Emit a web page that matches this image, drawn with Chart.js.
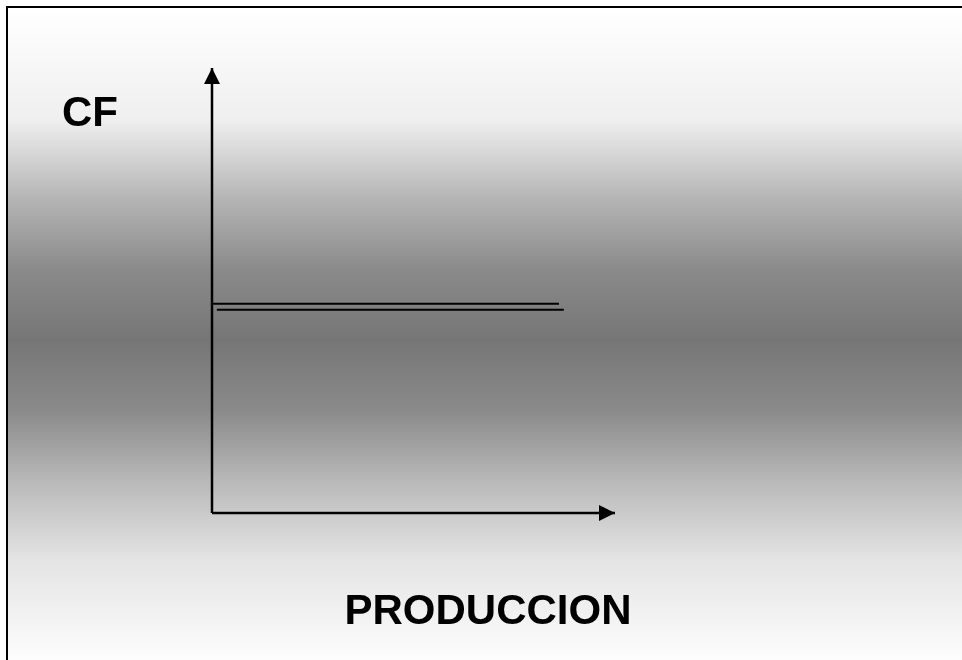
<!DOCTYPE html>
<html>
<head>
<meta charset="utf-8">
<script src="https://cdn.jsdelivr.net/npm/chart.js@4/dist/chart.umd.min.js"></script>
<style>
  html, body { margin: 0; padding: 0; background: #fff; }
  #wrap { width: 962px; height: 660px; position: relative; }
</style>
</head>
<body>
<div id="wrap"><canvas id="c" width="962" height="660"></canvas></div>
<script>
// ---- data ----
const yAxisTitle = "CF";
const xAxisTitle = "PRODUCCION";
const xAxisLine = [{x: 0, y: 0}, {x: 10, y: 0}];
const yAxisLine = [{x: 0, y: 0}, {x: 0, y: 10}];
const cfLine1 = [{x: 0, y: 4.70}, {x: 8.61, y: 4.70}];
const cfLine2 = [{x: 0.12, y: 4.57}, {x: 8.73, y: 4.57}];

const bgPlugin = {
  id: 'bg',
  beforeDraw(chart) {
    const ctx = chart.ctx;
    const W = chart.width, H = chart.height;
    ctx.save();
    ctx.fillStyle = '#ffffff';
    ctx.fillRect(0, 0, W, H);
    const g = ctx.createLinearGradient(0, 8, 0, H);
    const stops = [[0, '#ffffff'], [112, '#efefef'], [192, '#b4b4b4'], [262, '#8a8a8a'], [332, '#767676'], [402, '#8a8a8a'], [472, '#b8b8b8'], [552, '#e4e4e4'], [652, '#fdfdfd']];
    stops.forEach(s => g.addColorStop(s[0] / (H - 8), s[1]));
    ctx.fillStyle = g;
    ctx.fillRect(8, 8, W - 8, H - 8);
    ctx.strokeStyle = '#000';
    ctx.lineWidth = 2;
    ctx.beginPath();
    ctx.moveTo(7, H + 2);
    ctx.lineTo(7, 7);
    ctx.lineTo(W + 2, 7);
    ctx.stroke();
    ctx.restore();
  },
  afterDraw(chart) {
    const ctx = chart.ctx;
    ctx.save();
    // arrowheads
    chart.data.datasets.forEach((ds, i) => {
      if (!ds.arrow) return;
      const pts = chart.getDatasetMeta(i).data;
      const a = pts[pts.length - 2], b = pts[pts.length - 1];
      const ang = Math.atan2(b.y - a.y, b.x - a.x);
      const len = 16, half = 8;
      ctx.fillStyle = '#000';
      ctx.beginPath();
      ctx.moveTo(b.x, b.y);
      ctx.lineTo(b.x - len * Math.cos(ang) - half * Math.sin(ang), b.y - len * Math.sin(ang) + half * Math.cos(ang));
      ctx.lineTo(b.x - len * Math.cos(ang) + half * Math.sin(ang), b.y - len * Math.sin(ang) - half * Math.cos(ang));
      ctx.closePath();
      ctx.fill();
    });
    // titles
    ctx.fillStyle = '#000';
    ctx.font = 'bold 42px "Liberation Sans", Arial, sans-serif';
    ctx.textBaseline = 'alphabetic';
    ctx.textAlign = 'left';
    ctx.fillText(yAxisTitle, 62, 126);
    ctx.textAlign = 'center';
    ctx.fillText(xAxisTitle, 488, 624);
    ctx.restore();
  }
};

const lineDs = (data, width, arrow) => ({
  data, borderColor: '#000', borderWidth: width, pointRadius: 0,
  showLine: true, fill: false, clip: false, arrow, tension: 0
});

new Chart(document.getElementById('c'), {
  type: 'scatter',
  data: {
    datasets: [
      lineDs(cfLine1, 2, false),
      lineDs(cfLine2, 2, false),
      lineDs(xAxisLine, 2.5, true),
      lineDs(yAxisLine, 2.5, true)
    ]
  },
  options: {
    responsive: false,
    animation: false,
    devicePixelRatio: 1,
    layout: { padding: { left: 212, right: 347, top: 68, bottom: 147 } },
    plugins: { legend: { display: false }, tooltip: { enabled: false } },
    events: [],
    scales: {
      x: { type: 'linear', min: 0, max: 10, display: false },
      y: { type: 'linear', min: 0, max: 10, display: false }
    }
  },
  plugins: [bgPlugin]
});
</script>
</body>
</html>
